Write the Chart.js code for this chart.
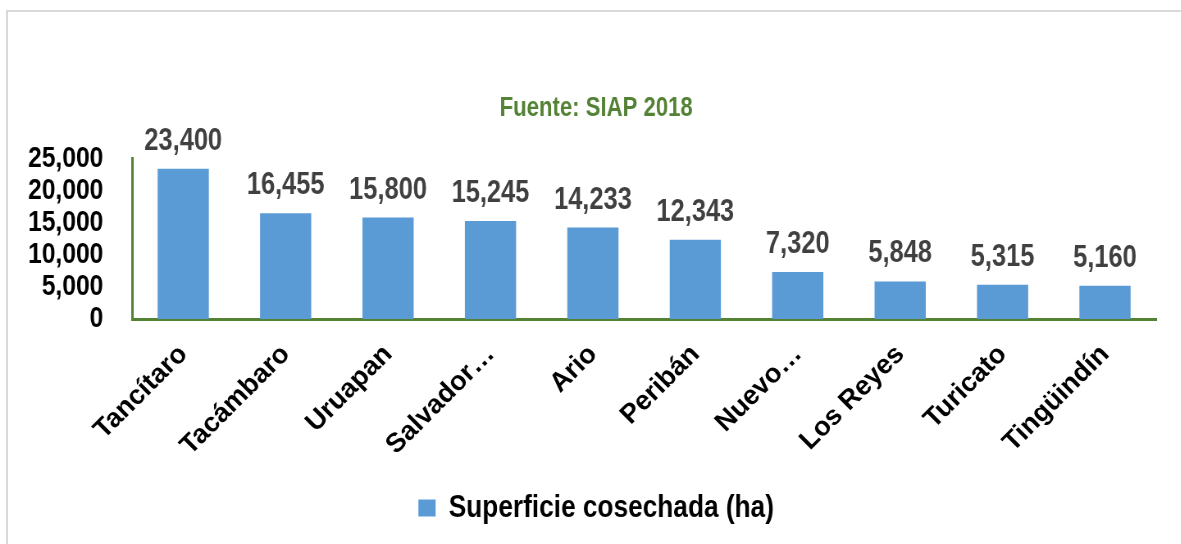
<!DOCTYPE html>
<html>
<head>
<meta charset="utf-8">
<script src="https://cdn.jsdelivr.net/npm/chart.js@4"></script>
<style>
  html, body { margin: 0; padding: 0; background: #ffffff; overflow: hidden; }
  #frame { position: absolute; left: 6px; top: 10px; width: 1200px; height: 560px;
           border-left: 2px solid #d9d9d9; border-top: 2px solid #d9d9d9; }
  #wrap { position: absolute; left: 0; top: 0; width: 1454px; height: 544px;
          transform: scaleX(0.82); transform-origin: 0 0; }
  #c { display: block; width: 1454px; height: 544px; }
</style>
</head>
<body>
<div id="frame"></div>
<div id="wrap"><canvas id="c" width="1454" height="544"></canvas></div>
<script>
const categories = ['Tancítaro', 'Tacámbaro', 'Uruapan', 'Salvador…', 'Ario', 'Peribán', 'Nuevo…', 'Los Reyes', 'Turicato', 'Tingüindín'];
const superficie = [23400, 16455, 15800, 15245, 14233, 12343, 7320, 5848, 5315, 5160];
const seriesName = 'Superficie cosechada (ha)';
const titleText = 'Fuente: SIAP 2018';
const yTicks = [0, 5000, 10000, 15000, 20000, 25000];

const SX = 0.82; // horizontal compression of the page (narrow font look)
const FONT = "'Liberation Sans', Arial, sans-serif";
const GREEN = '#548235';
const fmt = v => v.toLocaleString('en-US');

const dataLabels = {
  id: 'dataLabels',
  afterDatasetsDraw(chart) {
    const ctx = chart.ctx;
    const meta = chart.getDatasetMeta(0);
    ctx.save();
    ctx.font = 'bold 31px ' + FONT;
    ctx.fillStyle = '#404040';
    ctx.textAlign = 'center';
    ctx.textBaseline = 'alphabetic';
    meta.data.forEach((bar, i) => {
      ctx.fillText(fmt(superficie[i]), bar.x, bar.y - 19);
    });
    ctx.restore();
  }
};

// Category labels rotated 45° on screen (undoing the horizontal compression)
const xLabels = {
  id: 'xLabels',
  afterDraw(chart) {
    const ctx = chart.ctx;
    const xs = chart.scales.x;
    ctx.save();
    ctx.font = 'bold 27px ' + FONT;
    ctx.fillStyle = '#000000';
    ctx.textAlign = 'right';
    ctx.textBaseline = 'middle';
    categories.forEach((lab, i) => {
      const x = xs.getPixelForTick(i);
      const y = xs.top + 31;
      ctx.save();
      ctx.translate(x, y);
      ctx.scale(1 / SX, 1);
      ctx.rotate(-Math.PI / 4);
      ctx.fillText(lab, 0, 0);
      ctx.restore();
    });
    ctx.restore();
  }
};

new Chart(document.getElementById('c'), {
  type: 'bar',
  data: {
    labels: categories,
    datasets: [{
      label: seriesName,
      data: superficie,
      backgroundColor: '#5b9bd5',
      borderWidth: 0,
      categoryPercentage: 1.0,
      barPercentage: 0.5
    }]
  },
  options: {
    responsive: false,
    animation: false,
    devicePixelRatio: 1,
    layout: { padding: { left: 0, right: 0, top: 0, bottom: 10 } },
    plugins: {
      title: {
        display: true,
        text: titleText,
        color: GREEN,
        font: { family: FONT, size: 27, weight: 'bold' },
        padding: { top: 92, bottom: 34 }
      },
      legend: {
        display: true,
        position: 'bottom',
        labels: {
          color: '#000000',
          font: { family: FONT, size: 32, weight: 'bold' },
          boxWidth: 21,
          boxHeight: 17,
          padding: 10
        }
      },
      tooltip: { enabled: false }
    },
    scales: {
      x: {
        grid: { display: false, drawTicks: false },
        border: { display: true, color: GREEN, width: 3 },
        ticks: { display: false },
        afterFit(scale) { scale.height = 163; }
      },
      y: {
        min: 0,
        max: 25000,
        grid: { display: false, drawTicks: false },
        border: { display: true, color: GREEN, width: 3 },
        afterBuildTicks(scale) { scale.ticks = yTicks.map(v => ({ value: v })); },
        ticks: {
          color: '#000000',
          font: { family: FONT, size: 30, weight: 'bold' },
          padding: 35,
          autoSkip: false,
          callback: v => fmt(v)
        },
        afterFit(scale) { scale.width = 161; }
      },
      pad: {
        type: 'linear',
        position: 'right',
        display: true,
        grid: { display: false, drawTicks: false },
        border: { display: false },
        ticks: { display: false },
        afterFit(scale) { scale.width = 44; }
      }
    }
  },
  plugins: [dataLabels, xLabels]
});
</script>
</body>
</html>
